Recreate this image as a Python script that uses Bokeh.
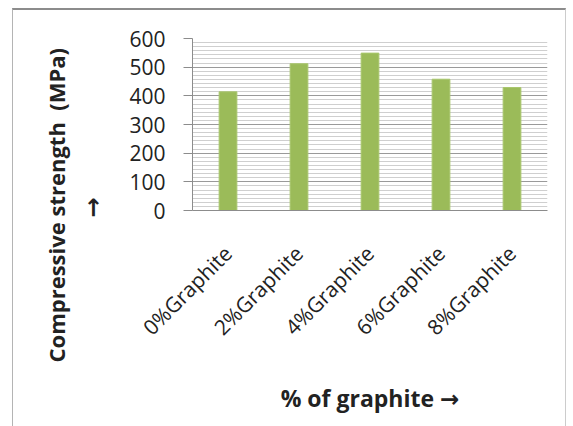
import math

from bokeh.embed import file_html
from bokeh.models import ColumnDataSource, FactorRange, FixedTicker, Range1d, Title
from bokeh.plotting import figure
from bokeh.resources import INLINE

# Compressive strength per graphite content
categories = ["0%Graphite", "2%Graphite", "4%Graphite", "6%Graphite", "8%Graphite"]
strength = [414, 512, 549, 458, 429]
y_ticks = [0, 100, 200, 300, 400, 500, 600]
y_minor = [t + k * 100 / 7 for t in y_ticks[:-1] for k in range(1, 7)]

FONT = "Open Sans"
TITLE_FONT = "Open Sans, DejaVu Sans"   # second family supplies the arrow glyph
TEXT = "#222222"

src = ColumnDataSource(dict(cat=categories, val=strength))

# chart area sits inside a thin frame drawn by the page element itself
p = figure(width=554, height=429,
           x_range=FactorRange(*categories, range_padding=0),
           y_range=Range1d(0, 600),
           output_backend="svg", toolbar_location=None,
           min_border_left=179, min_border_right=20,
           min_border_top=28, min_border_bottom=228)
p.styles = {"margin-left": "12px", "margin-top": "8px", "margin-bottom": "-20px",
            "border-top": "2px solid #8c8c8c",
            "border-left": "1px solid #b4b4b4",
            "border-right": "1px solid #cccccc"}
p.outline_line_color = None
p.background_fill_color = "white"
p.border_fill_color = "white"

p.vbar(x="cat", top="val", width=0.25, source=src,
       fill_color="#9bbb59", line_color="#a9c76e", line_width=1)

# grid: darker major lines with fine minor lines between them
p.xgrid.grid_line_color = None
p.ygrid.ticker = FixedTicker(ticks=y_ticks, minor_ticks=y_minor)
p.ygrid.grid_line_color = "#9a9a9a"
p.ygrid.grid_line_width = 1
p.ygrid.minor_grid_line_color = "#cfcfcf"
p.ygrid.minor_grid_line_width = 1

# y axis
p.yaxis.ticker = FixedTicker(ticks=y_ticks)
p.yaxis.axis_line_color = "#8c8c8c"
p.yaxis.major_tick_line_color = "#8c8c8c"
p.yaxis.major_tick_out = 9
p.yaxis.major_tick_in = 0
p.yaxis.minor_tick_line_color = None
p.yaxis.major_label_standoff = 18
p.yaxis.major_label_text_font = FONT
p.yaxis.major_label_text_font_size = "21px"
p.yaxis.major_label_text_color = TEXT

# x axis with rotated category names
p.xaxis.axis_line_color = "#8c8c8c"
p.xaxis.major_tick_line_color = None
p.xaxis.minor_tick_line_color = None
p.xaxis.major_label_orientation = math.pi / 4
p.xaxis.major_label_standoff = 33
p.xaxis.major_label_text_font = FONT
p.xaxis.major_label_text_font_size = "21px"
p.xaxis.major_label_text_color = TEXT

# axis titles
title_style = dict(text_font=TITLE_FONT, text_font_style="bold", text_color=TEXT)
p.add_layout(Title(text="→", align="left", offset=-7, standoff=37,
                   text_font_size="24px", **title_style), "left")
p.add_layout(Title(text="Compressive strength\u00a0 (MPa)", align="left",
                   offset=-152, standoff=-33, text_font_size="22px",
                   **title_style), "left")
p.add_layout(Title(text="% of graphite →", align="center", standoff=52,
                   text_font_size="23px", **title_style), "below")

open("out.html", "w").write(file_html(p, INLINE))
